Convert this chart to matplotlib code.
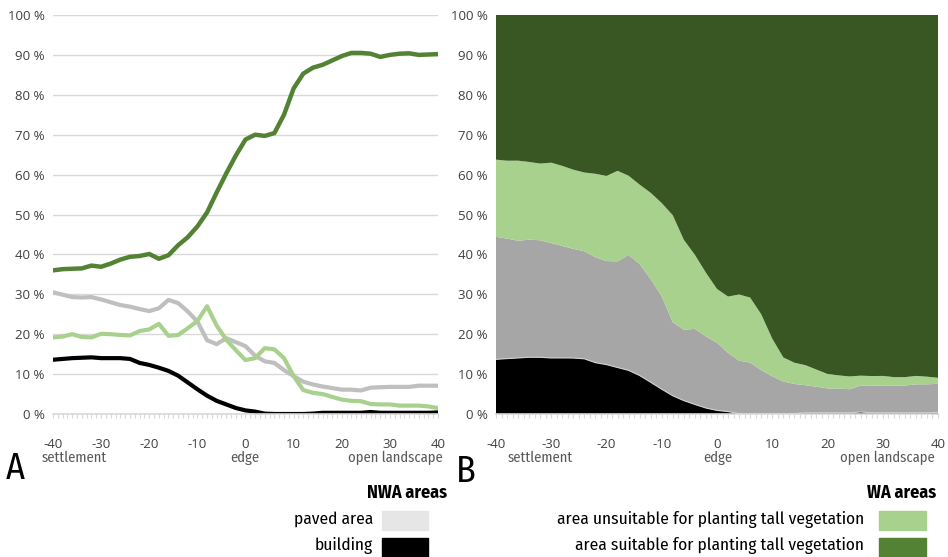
import numpy as np
import matplotlib
matplotlib.use("Agg")
import matplotlib.pyplot as plt
from matplotlib.ticker import MultipleLocator

# distance from the settlement edge (m)
distance = list(range(-40, 41, 2))

# shares of land cover (%)
suitable = [36.0, 36.3, 36.4, 36.5, 37.2, 36.9, 37.7, 38.7, 39.4, 39.6,
            40.1, 38.9, 39.8, 42.3, 44.3, 47.0, 50.5, 55.5, 60.3, 64.8,
            68.8, 70.0, 69.7, 70.4, 75.0, 81.6, 85.3, 86.8, 87.5, 88.6,
            89.7, 90.5, 90.5, 90.3, 89.5, 90.0, 90.3, 90.4, 90.0, 90.1, 90.2]
paved = [30.5, 29.9, 29.3, 29.2, 29.3, 28.7, 28.0, 27.3, 26.9, 26.3,
         25.8, 26.5, 28.6, 27.8, 25.7, 23.2, 18.5, 17.5, 19.0, 18.0,
         17.0, 14.6, 13.2, 12.8, 11.0, 9.5, 8.1, 7.4, 6.9, 6.5,
         6.1, 6.1, 5.9, 6.6, 6.7, 6.8, 6.8, 6.8, 7.1, 7.1, 7.1]
unsuitable = [19.2, 19.4, 20.0, 19.3, 19.2, 20.1, 20.0, 19.8, 19.7, 20.8,
              21.2, 22.6, 19.6, 19.8, 21.5, 23.3, 27.0, 22.2, 18.6, 16.0,
              13.5, 14.0, 16.5, 16.2, 14.0, 9.5, 6.0, 5.3, 5.0, 4.3,
              3.6, 3.3, 3.2, 2.5, 2.4, 2.4, 2.1, 2.1, 2.1, 1.9, 1.5]
building = [13.6, 13.8, 14.0, 14.1, 14.2, 14.0, 14.0, 14.0, 13.8, 12.8,
            12.3, 11.6, 10.8, 9.6, 7.9, 6.2, 4.6, 3.3, 2.4, 1.5,
            0.9, 0.6, 0.1, 0.0, 0.0, 0.0, 0.0, 0.1, 0.3, 0.3,
            0.3, 0.3, 0.3, 0.5, 0.3, 0.3, 0.3, 0.3, 0.3, 0.3, 0.4]

xticks = [-40, -30, -20, -10, 0, 10, 20, 30, 40]
yticks = [0, 10, 20, 30, 40, 50, 60, 70, 80, 90, 100]
ytick_labels = [f"{v} %" for v in yticks]

C_SUIT_LINE = "#548235"
C_SUIT_AREA = "#385723"
C_SUIT_KEY = "#548235"
C_UNSUIT = "#a9d18e"
C_PAVED_LINE = "#bfbfbf"
C_PAVED_AREA = "#a6a6a6"
C_PAVED_KEY = "#e7e6e6"
C_BUILD = "#000000"
C_TEXT = "#404040"

TICK_FONT = ["Open Sans", "DejaVu Sans"]
COND_FONT = ["Fira Sans Condensed", "PT Sans Narrow", "DejaVu Sans"]

W, H = 948, 557
fig = plt.figure(figsize=(W / 100, H / 100), dpi=100)


def px_axes(x0, y0, x1, y1):
    return fig.add_axes([x0 / W, 1 - y1 / H, (x1 - x0) / W, (y1 - y0) / H])


def px_text(x, y, s, **kw):
    fig.text(x / W, 1 - y / H, s, **kw)


def px_box(x0, y0, x1, y1, color):
    fig.patches.append(plt.Rectangle((x0 / W, 1 - y1 / H), (x1 - x0) / W,
                                     (y1 - y0) / H, transform=fig.transFigure,
                                     color=color))


def style_axes(ax):
    ax.set_xlim(-40, 40)
    ax.set_ylim(0, 100)
    ax.set_xticks(xticks)
    ax.set_xticklabels([str(t) for t in xticks])
    ax.set_yticks(yticks)
    ax.set_yticklabels(ytick_labels)
    ax.xaxis.set_minor_locator(MultipleLocator(1))
    for s in ("top", "right", "left"):
        ax.spines[s].set_visible(False)
    ax.spines["bottom"].set_color("#d9d9d9")
    ax.spines["bottom"].set_linewidth(1.2)
    ax.tick_params(axis="x", which="both", direction="out", length=3,
                   color="#d9d9d9", width=0.8)
    ax.tick_params(axis="x", which="major", pad=14, labelsize=9.5,
                   labelcolor=C_TEXT)
    ax.tick_params(axis="y", length=0, pad=6, labelsize=9.5,
                   labelcolor=C_TEXT)
    for lab in ax.get_xticklabels() + ax.get_yticklabels():
        lab.set_family(TICK_FONT)


# --- A: line chart of shares ---
axA = px_axes(53, 15, 438, 414)
style_axes(axA)
axA.yaxis.grid(True, color="#d9d9d9", linewidth=1.0)
axA.set_axisbelow(True)
axA.plot(distance, paved, color=C_PAVED_LINE, lw=3.0, solid_capstyle="round")
axA.plot(distance, unsuitable, color=C_UNSUIT, lw=3.0, solid_capstyle="round")
axA.plot(distance, building, color=C_BUILD, lw=3.0, solid_capstyle="round")
axA.plot(distance, suitable, color=C_SUIT_LINE, lw=3.2, solid_capstyle="round")

# --- B: stacked shares ---
axB = px_axes(496, 15, 938, 414)
style_axes(axB)
total = (np.array(building) + np.array(paved) + np.array(unsuitable)
         + np.array(suitable))
shares = [np.array(s) / total * 100 for s in (building, paved, unsuitable, suitable)]
axB.stackplot(distance, *shares,
              colors=[C_BUILD, C_PAVED_AREA, C_UNSUIT, C_SUIT_AREA],
              edgecolor="none")
axB.plot(distance, shares[0], color="#d0d0d0", lw=0.8)

# axis captions under the x ticks
cap = dict(family=COND_FONT, fontsize=10.5, color="#595959", va="center")
for x0, xe, x1 in ((42, 245, 443), (508, 718, 935)):
    px_text(x0, 458, "settlement", ha="left", **cap)
    px_text(xe, 458, "edge", ha="center", **cap)
    px_text(x1, 458, "open landscape", ha="right", **cap)

# panel letters
px_text(6, 469, "A", family=COND_FONT, fontsize=26, ha="left", va="center")
px_text(456, 472, "B", family=COND_FONT, fontsize=26, ha="left", va="center")

# legends
leg = dict(family=COND_FONT, color="#000000", va="center")
px_text(447, 493, "NWA areas", ha="right", fontweight="bold", fontsize=13, **leg)
px_text(373, 519, "paved area", ha="right", fontsize=12.5, **leg)
px_text(373, 546, "building", ha="right", fontsize=12.5, **leg)
px_box(382, 511, 428, 530, C_PAVED_KEY)
px_box(382, 538, 428, 557, C_BUILD)

px_text(936, 493, "WA areas", ha="right", fontweight="bold", fontsize=13, **leg)
px_text(864, 519, "area unsuitable for planting tall vegetation", ha="right",
        fontsize=12.5, **leg)
px_text(864, 546, "area suitable for planting tall vegetation", ha="right",
        fontsize=12.5, **leg)
px_box(879, 511, 926, 530, C_UNSUIT)
px_box(879, 538, 926, 557, C_SUIT_KEY)

fig.savefig("out.png", dpi=100)
